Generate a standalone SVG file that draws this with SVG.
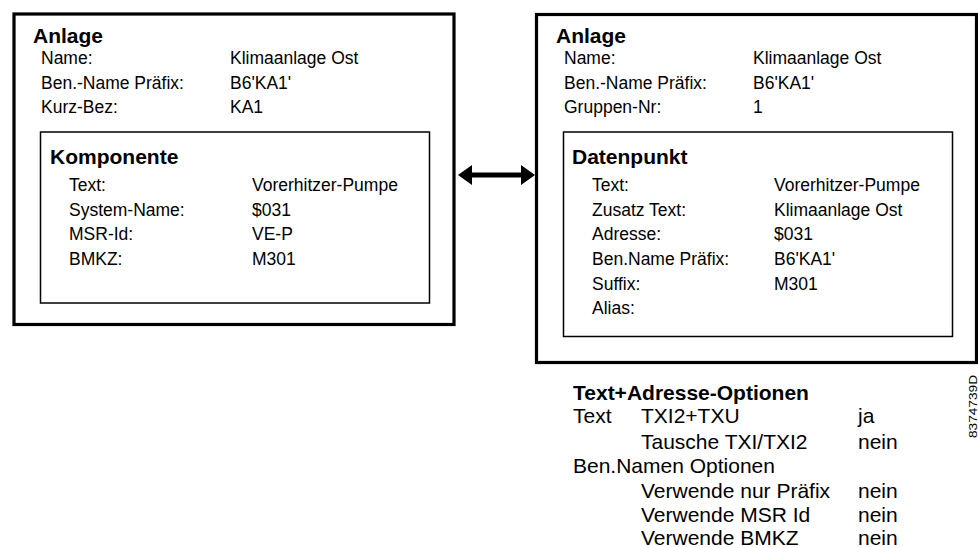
<svg xmlns="http://www.w3.org/2000/svg" width="978" height="548" viewBox="0 0 978 548">
  <style>
    text { font-family: "Liberation Sans", Arial, sans-serif; fill: #000; }
    .h { font-size: 21px; font-weight: bold; }
    .t { font-size: 17.5px; }
    .o { font-size: 21px; }
    .outer { fill: #fff; stroke: #000; stroke-width: 3.2; }
    .inner { fill: none; stroke: #000; stroke-width: 1.5; }
  </style>
  <rect width="978" height="548" fill="#fff"/>

  <!-- Komponente side (source) -->
  <g id="anlage-komponente">
    <rect class="outer" x="14" y="14" width="440" height="310.5"/>
    <text class="h" x="33" y="43">Anlage</text>
    <text class="t" x="41" y="64">Name:</text>
    <text class="t" x="230" y="64">Klimaanlage Ost</text>
    <text class="t" x="41" y="89">Ben.-Name Präfix:</text>
    <text class="t" x="230" y="89">B6'KA1'</text>
    <text class="t" x="41" y="113">Kurz-Bez:</text>
    <text class="t" x="230" y="113">KA1</text>
    <g id="komponente">
      <rect class="inner" x="40.5" y="132" width="389" height="171"/>
      <text class="h" x="50" y="164">Komponente</text>
      <text class="t" x="69" y="191">Text:</text>
      <text class="t" x="252" y="191">Vorerhitzer-Pumpe</text>
      <text class="t" x="69" y="216">System-Name:</text>
      <text class="t" x="252" y="216">$031</text>
      <text class="t" x="69" y="240">MSR-Id:</text>
      <text class="t" x="252" y="240">VE-P</text>
      <text class="t" x="69" y="265">BMKZ:</text>
      <text class="t" x="252" y="265">M301</text>
    </g>
  </g>

  <!-- Datenpunkt side (target) -->
  <g id="anlage-datenpunkt">
    <rect class="outer" x="536.5" y="14.5" width="440" height="348"/>
    <text class="h" x="556" y="43">Anlage</text>
    <text class="t" x="564" y="64">Name:</text>
    <text class="t" x="753" y="64">Klimaanlage Ost</text>
    <text class="t" x="564" y="89">Ben.-Name Präfix:</text>
    <text class="t" x="753" y="89">B6'KA1'</text>
    <text class="t" x="564" y="113">Gruppen-Nr:</text>
    <text class="t" x="753" y="113">1</text>
    <g id="datenpunkt">
      <rect class="inner" x="563.5" y="132" width="389" height="204.5"/>
      <text class="h" x="572" y="164">Datenpunkt</text>
      <text class="t" x="592" y="191">Text:</text>
      <text class="t" x="774" y="191">Vorerhitzer-Pumpe</text>
      <text class="t" x="592" y="216">Zusatz Text:</text>
      <text class="t" x="774" y="216">Klimaanlage Ost</text>
      <text class="t" x="592" y="240">Adresse:</text>
      <text class="t" x="774" y="240">$031</text>
      <text class="t" x="592" y="265">Ben.Name Präfix:</text>
      <text class="t" x="774" y="265">B6'KA1'</text>
      <text class="t" x="592" y="290">Suffix:</text>
      <text class="t" x="774" y="290">M301</text>
      <text class="t" x="592" y="314">Alias:</text>
    </g>
  </g>

  <!-- bidirectional mapping arrow -->
  <g id="connectors">
    <polygon points="458,175 472,165 472,172.5 521,172.5 521,165 535,175 521,185 521,177.5 472,177.5 472,185" fill="#000"/>
  </g>

  <!-- option list -->
  <g id="optionen">
    <text class="h" x="573" y="400">Text+Adresse-Optionen</text>
    <text class="o" x="573" y="423">Text</text>
    <text class="o" x="641" y="423">TXI2+TXU</text>
    <text class="o" x="858" y="423">ja</text>
    <text class="o" x="641" y="449">Tausche TXI/TXI2</text>
    <text class="o" x="858" y="449">nein</text>
    <text class="o" x="573" y="473">Ben.Namen Optionen</text>
    <text class="o" x="641" y="498">Verwende nur Präfix</text>
    <text class="o" x="858" y="498">nein</text>
    <text class="o" x="641" y="522">Verwende MSR Id</text>
    <text class="o" x="858" y="522">nein</text>
    <text class="o" x="641" y="545">Verwende BMKZ</text>
    <text class="o" x="858" y="545">nein</text>
  </g>

  <text x="977" y="438" transform="rotate(-90 977 438)" font-size="10" textLength="63" lengthAdjust="spacingAndGlyphs">8374739D</text>
</svg>
